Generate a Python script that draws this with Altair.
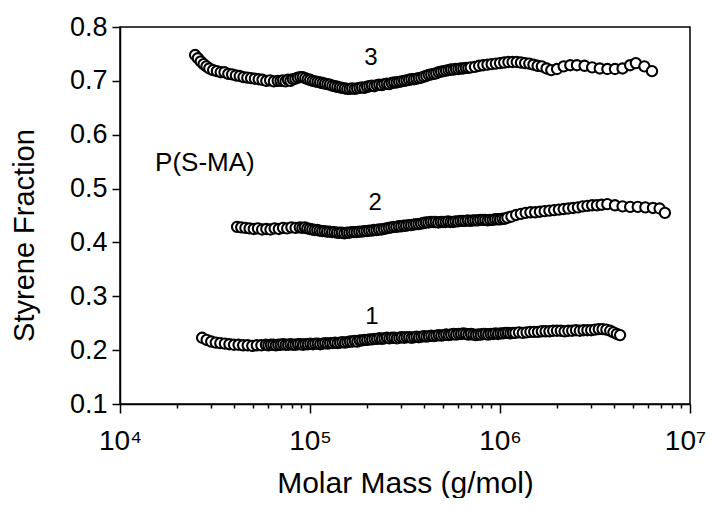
import altair as alt
import pandas as pd

# log10 of molar mass (g/mol) and styrene fraction
logm1 = [4.432, 4.456, 4.480, 4.504, 4.528, 4.552, 4.576, 4.600, 4.624, 4.648, 4.672, 4.696, 4.720, 4.744, 4.768,
         4.781, 4.794, 4.807, 4.820, 4.833, 4.846, 4.859, 4.872, 4.885, 4.898, 4.911, 4.924, 4.937, 4.950, 4.963,
         4.976, 4.989, 5.002, 5.015, 5.028, 5.041, 5.054, 5.067, 5.080, 5.093, 5.106, 5.119, 5.132, 5.145, 5.158,
         5.171, 5.184, 5.197, 5.210, 5.223, 5.236, 5.249, 5.262, 5.275, 5.288, 5.301, 5.314, 5.327, 5.340, 5.353,
         5.366, 5.379, 5.392, 5.405, 5.418, 5.431, 5.444, 5.457, 5.470, 5.483, 5.496, 5.509, 5.522, 5.535, 5.548,
         5.561, 5.574, 5.587, 5.600, 5.613, 5.626, 5.639, 5.652, 5.665, 5.678, 5.691, 5.704, 5.717, 5.730, 5.743,
         5.756, 5.769, 5.782, 5.795, 5.808, 5.821, 5.834, 5.847, 5.860, 5.873, 5.886, 5.899, 5.912, 5.925, 5.938,
         5.951, 5.964, 5.977, 5.990, 6.003, 6.016, 6.029, 6.042, 6.055, 6.068, 6.081,
         6.100, 6.120, 6.140, 6.160, 6.180, 6.200, 6.220, 6.240, 6.260, 6.280, 6.300, 6.320, 6.340, 6.360, 6.380,
         6.400, 6.420, 6.440, 6.460, 6.480, 6.500, 6.520, 6.540, 6.560, 6.580, 6.597, 6.615, 6.632]
sty1 = [0.223, 0.219, 0.216, 0.214, 0.213, 0.212, 0.211, 0.210, 0.210, 0.209, 0.209, 0.208, 0.209, 0.209, 0.210,
        0.209, 0.210, 0.210, 0.209, 0.210, 0.210, 0.211, 0.210, 0.210, 0.211, 0.210, 0.210, 0.211, 0.211, 0.210,
        0.211, 0.211, 0.212, 0.211, 0.212, 0.212, 0.211, 0.212, 0.213, 0.212, 0.213, 0.213, 0.214, 0.213, 0.214,
        0.215, 0.214, 0.215, 0.216, 0.216, 0.217, 0.216, 0.218, 0.218, 0.219, 0.219, 0.220, 0.220, 0.221, 0.221,
        0.222, 0.221, 0.222, 0.223, 0.222, 0.223, 0.223, 0.222, 0.223, 0.224, 0.223, 0.224, 0.224, 0.223, 0.224,
        0.225, 0.224, 0.225, 0.226, 0.225, 0.226, 0.227, 0.226, 0.227, 0.228, 0.227, 0.228, 0.229, 0.228, 0.229,
        0.230, 0.229, 0.230, 0.230, 0.231, 0.230, 0.229, 0.230, 0.229, 0.228, 0.229, 0.229, 0.230, 0.230, 0.229,
        0.230, 0.230, 0.231, 0.230, 0.231, 0.231, 0.232, 0.232, 0.231, 0.232, 0.232,
        0.233, 0.232, 0.233, 0.234, 0.234, 0.234, 0.235, 0.235, 0.235, 0.236, 0.236, 0.236, 0.235, 0.236, 0.236,
        0.237, 0.236, 0.237, 0.237, 0.237, 0.238, 0.239, 0.239, 0.238, 0.236, 0.233, 0.230, 0.228]

logm2 = [4.616, 4.638, 4.660, 4.682, 4.704, 4.726, 4.748, 4.770, 4.792, 4.814, 4.836, 4.858, 4.880, 4.902, 4.924, 4.946,
         4.960, 4.973, 4.986, 4.999, 5.012, 5.025, 5.038, 5.051, 5.064, 5.077, 5.090, 5.103, 5.116, 5.129, 5.142,
         5.155, 5.168, 5.181, 5.194, 5.207, 5.220, 5.233, 5.246, 5.259, 5.272, 5.285, 5.298, 5.311, 5.324, 5.337,
         5.350, 5.363, 5.376, 5.389, 5.402, 5.415, 5.428, 5.441, 5.454, 5.467, 5.480, 5.493, 5.506, 5.519, 5.532,
         5.545, 5.558, 5.571, 5.584, 5.597, 5.610, 5.623, 5.636, 5.649, 5.662, 5.675, 5.688, 5.701, 5.714, 5.727,
         5.740, 5.753, 5.766, 5.779, 5.792, 5.805, 5.818, 5.831, 5.844, 5.857, 5.870, 5.883, 5.896, 5.909, 5.922,
         5.935, 5.948, 5.961, 5.974, 5.987, 6.000, 6.013, 6.026, 6.039,
         6.060, 6.085, 6.110, 6.135, 6.160, 6.185, 6.210, 6.235, 6.260, 6.285, 6.310, 6.335, 6.360, 6.385, 6.410,
         6.435, 6.460, 6.485, 6.510, 6.535,
         6.565, 6.605, 6.645, 6.685, 6.725, 6.765, 6.805, 6.840, 6.868]
sty2 = [0.429, 0.428, 0.427, 0.426, 0.425, 0.426, 0.424, 0.425, 0.424, 0.426, 0.425, 0.427, 0.426, 0.428, 0.427, 0.428,
        0.427, 0.428, 0.426, 0.425, 0.424, 0.423, 0.423, 0.422, 0.421, 0.421, 0.420, 0.420, 0.419, 0.419, 0.418,
        0.418, 0.418, 0.417, 0.418, 0.418, 0.419, 0.419, 0.419, 0.420, 0.420, 0.421, 0.421, 0.422, 0.422, 0.423,
        0.423, 0.424, 0.424, 0.425, 0.426, 0.427, 0.428, 0.429, 0.429, 0.430, 0.430, 0.431, 0.431, 0.432, 0.432,
        0.433, 0.434, 0.434, 0.435, 0.436, 0.437, 0.437, 0.438, 0.438, 0.438, 0.437, 0.438, 0.438, 0.438, 0.439,
        0.438, 0.438, 0.439, 0.439, 0.440, 0.440, 0.440, 0.441, 0.440, 0.441, 0.441, 0.441, 0.442, 0.442, 0.442,
        0.441, 0.442, 0.442, 0.443, 0.443, 0.443, 0.444, 0.444, 0.446,
        0.448, 0.451, 0.453, 0.455, 0.456, 0.456, 0.457, 0.458, 0.459, 0.460, 0.461, 0.462, 0.463, 0.464, 0.465,
        0.467, 0.468, 0.469, 0.469, 0.470,
        0.471, 0.469, 0.467, 0.466, 0.466, 0.465, 0.464, 0.463, 0.455]

logm3 = [4.395, 4.410, 4.425, 4.440, 4.455, 4.470, 4.490, 4.510, 4.530, 4.550, 4.570, 4.590, 4.610, 4.630, 4.650,
         4.670, 4.690, 4.710, 4.730, 4.750, 4.770, 4.790, 4.810, 4.830,
         4.845, 4.858, 4.871, 4.884, 4.897, 4.910, 4.923, 4.936, 4.949, 4.962, 4.975, 4.988, 5.001, 5.014, 5.027,
         5.040, 5.053, 5.066, 5.079, 5.092, 5.105, 5.118, 5.131, 5.144, 5.157, 5.170, 5.183, 5.196, 5.209, 5.222,
         5.235, 5.248, 5.261, 5.274, 5.287, 5.300, 5.313, 5.326, 5.339, 5.352, 5.365, 5.378, 5.391, 5.404, 5.417,
         5.430, 5.443, 5.456, 5.469, 5.482, 5.495, 5.508, 5.521, 5.534, 5.547, 5.560, 5.573, 5.586, 5.599, 5.612,
         5.625, 5.638, 5.651, 5.664, 5.677, 5.690, 5.703, 5.716, 5.729, 5.742, 5.755, 5.768, 5.781, 5.794, 5.807,
         5.820, 5.833, 5.846,
         5.868, 5.890, 5.912, 5.934, 5.956, 5.978, 6.000, 6.022, 6.044, 6.066, 6.088, 6.110, 6.132, 6.154, 6.176,
         6.198, 6.220, 6.245, 6.270,
         6.300, 6.335, 6.370, 6.405, 6.445, 6.485, 6.525, 6.565, 6.605, 6.645, 6.685, 6.715, 6.760, 6.800]
sty3 = [0.748, 0.742, 0.736, 0.731, 0.727, 0.723, 0.720, 0.718, 0.716, 0.716, 0.713, 0.712, 0.710, 0.709, 0.707,
        0.706, 0.705, 0.704, 0.703, 0.702, 0.700, 0.701, 0.699, 0.700,
        0.700, 0.701, 0.699, 0.702, 0.700, 0.703, 0.704, 0.706, 0.707, 0.707, 0.705, 0.703, 0.702, 0.700, 0.699,
        0.698, 0.697, 0.696, 0.695, 0.694, 0.693, 0.691, 0.690, 0.689, 0.688, 0.687, 0.686, 0.685, 0.685, 0.686,
        0.685, 0.686, 0.687, 0.688, 0.687, 0.689, 0.690, 0.691, 0.690, 0.692, 0.693, 0.692, 0.694, 0.695, 0.694,
        0.696, 0.697, 0.697, 0.698, 0.699, 0.700, 0.701, 0.702, 0.703, 0.703, 0.704, 0.705, 0.706, 0.708, 0.709,
        0.711, 0.712, 0.713, 0.714, 0.716, 0.717, 0.718, 0.719, 0.720, 0.721, 0.721, 0.722, 0.722, 0.723, 0.723,
        0.724, 0.724, 0.725,
        0.726, 0.728, 0.729, 0.730, 0.731, 0.732, 0.733, 0.734, 0.735, 0.735, 0.735, 0.734, 0.733, 0.732, 0.730,
        0.728, 0.727, 0.723, 0.720,
        0.722, 0.727, 0.729, 0.729, 0.728, 0.725, 0.723, 0.722, 0.722, 0.723, 0.729, 0.733, 0.727, 0.718]

# annotations
label_text = ["1", "2", "3"]
label_mass = [2.12e5, 2.20e5, 2.09e5]
label_frac = [0.262, 0.473, 0.742]
sample_text = ["P(S-MA)"]
sample_mass = [1.53e4]
sample_frac = [0.548]

x_ticks = [m * 10 ** e for e in (4, 5, 6) for m in range(1, 10)] + [1e7]
y_ticks = [round(0.1 + 0.05 * i, 2) for i in range(15)]

rows = []
for sid, (lm, sy) in enumerate([(logm1, sty1), (logm2, sty2), (logm3, sty3)], start=1):
    for a, b in zip(lm, sy):
        rows.append({"series": sid, "mass": 10 ** a, "frac": b})
df = pd.DataFrame(rows)
df["order"] = range(len(df))

ann = pd.DataFrame({"text": label_text, "mass": label_mass, "frac": label_frac})
ann2 = pd.DataFrame({"text": sample_text, "mass": sample_mass, "frac": sample_frac})

FONT = "Liberation Sans"

xscale = alt.Scale(type="log", domain=[1e4, 1e7], nice=False)
yscale = alt.Scale(domain=[0.1, 0.8], nice=False, zero=False)

xaxis = alt.Axis(
    values=x_ticks,
    labelExpr=("datum.value == 10000 ? '10⁴' : datum.value == 100000 ? '10⁵' : "
               "datum.value == 1000000 ? '10⁶' : datum.value == 10000000 ? '10⁷' : ''"),
    tickSize={"condition": {"test": "abs(log(datum.value)/LN10 - round(log(datum.value)/LN10)) < 0.001", "value": 9}, "value": 4},
    labelOffset={"condition": {"test": "datum.value > 5000000", "value": -5}, "value": 0},
    labelFontSize=28, labelFont=FONT, labelColor="black", labelPadding=14,
    labelOverlap=False, labelFlush=False,
    title="Molar Mass (g/mol)", titleFont=FONT, titleFontSize=30, titleFontWeight="normal",
    titleColor="black", titleBaseline="alphabetic", titleY=88,
    grid=False, domainColor="black", domainWidth=1.5, tickColor="black", tickWidth=1.5,
)
yaxis = alt.Axis(
    values=y_ticks,
    labelExpr="abs(datum.value*10 - round(datum.value*10)) < 0.001 ? format(datum.value, '.1f') : ''",
    tickSize={"condition": {"test": "abs(datum.value*10 - round(datum.value*10)) < 0.001", "value": 8}, "value": 5},
    labelFontSize=27, labelFont=FONT, labelColor="black", labelPadding=5,
    labelOverlap=False, labelFlush=False,
    title="Styrene Fraction", titleFont=FONT, titleFontSize=29, titleFontWeight="normal",
    titleColor="black", titleX=-96, titleY=208, titleAngle=270, titleAlign="center", titleBaseline="middle",
    grid=False, domainColor="black", domainWidth=1.5, tickColor="black", tickWidth=1.5,
)

points = alt.Chart(df).mark_point(
    shape="circle", fill="white", stroke="black", fillOpacity=1, strokeOpacity=1,
    opacity=1, strokeWidth=2.1, size=105,
).encode(
    x=alt.X("mass:Q", scale=xscale, axis=xaxis),
    y=alt.Y("frac:Q", scale=yscale, axis=yaxis),
    order=alt.Order("order:Q"),
)

labels = alt.Chart(ann).mark_text(font=FONT, fontSize=24, color="black", baseline="middle", align="center").encode(
    x=alt.X("mass:Q", scale=xscale), y=alt.Y("frac:Q", scale=yscale), text="text:N")

sample = alt.Chart(ann2).mark_text(font=FONT, fontSize=26, color="black", baseline="middle", align="left").encode(
    x=alt.X("mass:Q", scale=xscale), y=alt.Y("frac:Q", scale=yscale), text="text:N")

chart = alt.layer(points, labels, sample).properties(
    width=570, height=377,
    autosize=alt.AutoSizeParams(type="none"),
    padding={"left": 112, "top": 19, "right": 17, "bottom": 94},
    background="white",
).configure_view(stroke="black", strokeWidth=1.5)

chart.save("out.html", embed_options={"renderer": "svg", "actions": False})
